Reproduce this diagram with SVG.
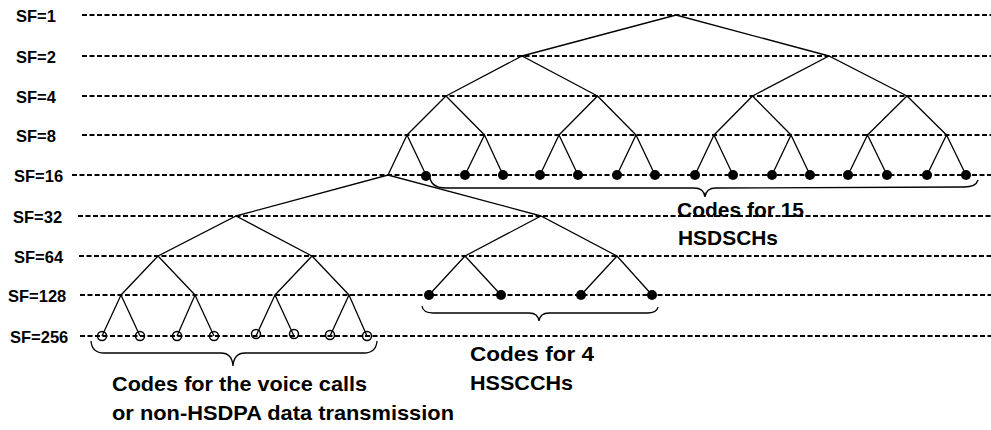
<svg xmlns="http://www.w3.org/2000/svg" width="991" height="430" viewBox="0 0 991 430">
  <style>
    .lvl { fill: none; stroke: #000; stroke-width: 2.2; stroke-dasharray: 5 2.5; }
    .edge { fill: none; stroke: #000; stroke-width: 1.3; }
    .dot { fill: #000; }
    .ring { fill: none; stroke: #000; stroke-width: 1.5; }
    .brace { fill: none; stroke: #000; stroke-width: 1.3; }
    .sf { font-family: "Liberation Sans", Arial, sans-serif; font-weight: bold; font-size: 16.5px; fill: #000; }
    .note { font-family: "Liberation Sans", Arial, sans-serif; font-weight: bold; font-size: 21px; fill: #000; }
  </style>

  <!-- spreading-factor levels -->
  <g id="levels">
    <g id="sf1"><text class="sf" x="16" y="21.5">SF=1</text><line class="lvl" x1="82" y1="15" x2="991" y2="15"/></g>
    <g id="sf2"><text class="sf" x="16" y="62.5">SF=2</text><line class="lvl" x1="82" y1="56" x2="991" y2="56"/></g>
    <g id="sf4"><text class="sf" x="16" y="102.5">SF=4</text><line class="lvl" x1="82" y1="96" x2="991" y2="96"/></g>
    <g id="sf8"><text class="sf" x="16" y="141.5">SF=8</text><line class="lvl" x1="82" y1="135" x2="991" y2="135"/></g>
    <g id="sf16"><text class="sf" x="14" y="181.5">SF=16</text><line class="lvl" x1="72" y1="175" x2="991" y2="175"/></g>
    <g id="sf32"><text class="sf" x="13" y="222.5">SF=32</text><line class="lvl" x1="78" y1="216" x2="991" y2="216"/></g>
    <g id="sf64"><text class="sf" x="14" y="262.5">SF=64</text><line class="lvl" x1="79" y1="256" x2="991" y2="256"/></g>
    <g id="sf128"><text class="sf" x="8" y="301.5">SF=128</text><line class="lvl" x1="80" y1="295" x2="991" y2="295"/></g>
    <g id="sf256"><text class="sf" x="10" y="342.5">SF=256</text><line class="lvl" x1="80" y1="336" x2="991" y2="336"/></g>
  </g>

  <!-- code tree branches -->
  <g id="connectors" class="edge">
    <!-- SF=1 to SF=16 -->
    <polyline points="522,56 676,15 829,56"/>
    <polyline points="446,96 522,56 597.5,96"/>
    <polyline points="752.5,96 829,56 907,96"/>
    <polyline points="407,135 446,96 484.5,135"/>
    <polyline points="559,135 597.5,96 636,135"/>
    <polyline points="714,135 752.5,96 791,135"/>
    <polyline points="867.5,135 907,96 946.5,135"/>
    <polyline points="388,175 407,135 426,175"/>
    <polyline points="465,175 484.5,135 503,175"/>
    <polyline points="540,175 559,135 578,175"/>
    <polyline points="617,175 636,135 655,175"/>
    <polyline points="695,175 714,135 733,175"/>
    <polyline points="772,175 791,135 810,175"/>
    <polyline points="848,175 867.5,135 887,175"/>
    <polyline points="927,175 946.5,135 966,175"/>
    <!-- SF=16 to SF=256 -->
    <polyline points="236,216 388,175 541,216"/>
    <polyline points="158,256 236,216 312,256"/>
    <polyline points="465,256 541,216 617,256"/>
    <polyline points="121,295 158,256 195,295"/>
    <polyline points="275,295 312,256 349,295"/>
    <polyline points="429,295 465,256 501,295"/>
    <polyline points="581,295 617,256 652,295"/>
    <polyline points="102,336 121,295 140,336"/>
    <polyline points="177,336 195,295 214,336"/>
    <polyline points="256,336 275,295 294,336"/>
    <polyline points="330,336 349,295 367,336"/>
  </g>

  <!-- HS-DSCH codes (SF=16) -->
  <g id="hsdsch1"><circle class="dot" cx="426" cy="176" r="5"/></g>
  <g id="hsdsch2"><circle class="dot" cx="465" cy="175" r="5"/></g>
  <g id="hsdsch3"><circle class="dot" cx="503" cy="175" r="5"/></g>
  <g id="hsdsch4"><circle class="dot" cx="540" cy="175" r="5"/></g>
  <g id="hsdsch5"><circle class="dot" cx="578" cy="175" r="5"/></g>
  <g id="hsdsch6"><circle class="dot" cx="617" cy="175" r="5"/></g>
  <g id="hsdsch7"><circle class="dot" cx="655" cy="175" r="5"/></g>
  <g id="hsdsch8"><circle class="dot" cx="695" cy="175" r="5"/></g>
  <g id="hsdsch9"><circle class="dot" cx="733" cy="175" r="5"/></g>
  <g id="hsdsch10"><circle class="dot" cx="772" cy="175" r="5"/></g>
  <g id="hsdsch11"><circle class="dot" cx="810" cy="175" r="5"/></g>
  <g id="hsdsch12"><circle class="dot" cx="848" cy="175" r="5"/></g>
  <g id="hsdsch13"><circle class="dot" cx="887" cy="175" r="5"/></g>
  <g id="hsdsch14"><circle class="dot" cx="927" cy="175" r="5"/></g>
  <g id="hsdsch15"><circle class="dot" cx="966" cy="175" r="5"/></g>

  <!-- HS-SCCH codes (SF=128) -->
  <g id="hsscch1"><circle class="dot" cx="429" cy="295" r="5"/></g>
  <g id="hsscch2"><circle class="dot" cx="501" cy="295" r="5"/></g>
  <g id="hsscch3"><circle class="dot" cx="581" cy="295" r="5"/></g>
  <g id="hsscch4"><circle class="dot" cx="652" cy="295" r="5"/></g>

  <!-- voice / non-HSDPA codes (SF=256) -->
  <g id="voice1"><circle class="ring" cx="102" cy="336" r="4.5"/></g>
  <g id="voice2"><circle class="ring" cx="140" cy="336" r="4.5"/></g>
  <g id="voice3"><circle class="ring" cx="177" cy="336" r="4.5"/></g>
  <g id="voice4"><circle class="ring" cx="214" cy="336" r="4.5"/></g>
  <g id="voice5"><circle class="ring" cx="256" cy="334" r="4.5"/></g>
  <g id="voice6"><circle class="ring" cx="294" cy="334" r="4.5"/></g>
  <g id="voice7"><circle class="ring" cx="330" cy="335" r="4.5"/></g>
  <g id="voice8"><circle class="ring" cx="367" cy="336" r="4.5"/></g>

  <!-- group braces -->
  <g id="braces" class="brace">
    <path d="M430,178 Q432,188 446,188 L694,188 Q704,188 705,197 Q706,188 716,188 L964,187 Q976,187 978,180"/>
    <path d="M422,306 Q423,313 433,313 L529,313 Q538,313 539,321 Q540,313 549,313 L647,313 Q657,313 658,307"/>
    <path d="M91,341 Q92,353 104,353 L221,353 Q232,353 233,366 Q234,353 245,353 L364,353 Q376,353 377,341"/>
  </g>

  <!-- annotations -->
  <g id="label-hsdsch">
    <text class="note" x="677" y="217" textLength="127" lengthAdjust="spacingAndGlyphs">Codes for 15</text>
    <text class="note" x="678" y="245" textLength="100" lengthAdjust="spacingAndGlyphs">HSDSCHs</text>
  </g>
  <g id="label-hsscch">
    <text class="note" x="470" y="361" textLength="124" lengthAdjust="spacingAndGlyphs">Codes for 4</text>
    <text class="note" x="470" y="390" textLength="103" lengthAdjust="spacingAndGlyphs">HSSCCHs</text>
  </g>
  <g id="label-voice">
    <text class="note" x="112" y="391" textLength="255" lengthAdjust="spacingAndGlyphs">Codes for the voice calls</text>
    <text class="note" x="112" y="420" textLength="342" lengthAdjust="spacingAndGlyphs">or non-HSDPA data transmission</text>
  </g>
</svg>
